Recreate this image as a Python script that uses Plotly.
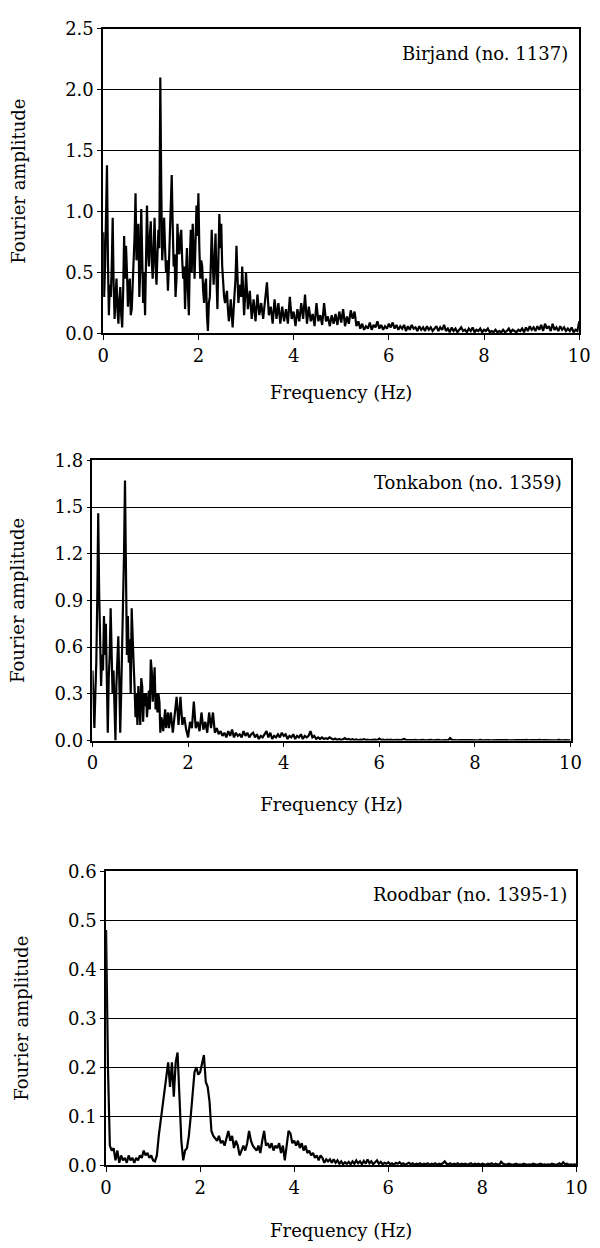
import numpy as np
import plotly.graph_objects as go

# ---------------- data ----------------
# Each panel: a finely read low-frequency part (step 0.02 Hz) followed by a coarser part (step 0.04 Hz).
FINE_STEP = 0.02
COARSE_STEP = 0.04

birjand_fine = [  # 0.00 - 2.98 Hz
    0.83, 0.30, 0.55, 1.00, 1.38, 0.60, 0.15, 0.40, 0.30, 0.55, 0.95, 0.40, 0.12, 0.30, 0.45, 0.20, 0.08, 0.28, 0.38, 0.15,
    0.05, 0.35, 0.80, 0.45, 0.72, 0.50, 0.22, 0.40, 0.45, 0.15, 0.20, 0.40, 0.55, 0.80, 1.15, 0.60, 0.80, 0.90, 0.30, 0.55,
    1.02, 0.60, 0.25, 0.50, 0.15, 0.60, 1.05, 0.70, 0.55, 0.80,
    0.92, 0.60, 0.45, 0.70, 0.95, 0.55, 0.40, 0.65, 0.85, 0.70, 2.10, 1.20, 0.60, 0.75, 0.95, 0.70, 0.50, 0.60, 0.35, 0.55,
    0.80, 0.95, 1.30, 0.90, 0.55, 0.65, 0.30, 0.45, 0.90, 0.70, 0.65, 0.80, 0.85, 0.60, 0.45, 0.55, 0.20, 0.50, 0.70, 0.35,
    0.15, 0.60, 0.85, 0.50, 0.90, 0.70, 0.45, 0.75, 1.05, 0.80,
    1.15, 0.70, 0.45, 0.60, 0.55, 0.35, 0.25, 0.40, 0.45, 0.15, 0.02, 0.25, 0.30, 0.55, 0.85, 0.60, 0.40, 0.60, 0.82, 0.45,
    0.20, 0.60, 0.98, 0.70, 0.90, 0.55, 0.40, 0.30, 0.25, 0.30, 0.35, 0.20, 0.10, 0.18, 0.28, 0.15, 0.05, 0.20, 0.30, 0.45,
    0.72, 0.40, 0.25, 0.35, 0.40, 0.30, 0.55, 0.35, 0.15, 0.30,
]
birjand_coarse = [  # 3.00 - 10.00 Hz
    0.50, 0.20, 0.35, 0.12, 0.28, 0.10, 0.32, 0.15, 0.25, 0.12, 0.30, 0.42, 0.15, 0.22, 0.08, 0.28, 0.12, 0.25, 0.08, 0.22, 0.10, 0.20, 0.08, 0.30, 0.12,
    0.18, 0.06, 0.20, 0.10, 0.25, 0.12, 0.32, 0.08, 0.22, 0.10, 0.16, 0.06, 0.25, 0.10, 0.15, 0.07, 0.25, 0.10, 0.14, 0.06, 0.15, 0.08, 0.16, 0.07, 0.18,
    0.09, 0.20, 0.06, 0.14, 0.08, 0.19, 0.12, 0.18, 0.06, 0.10, 0.04, 0.08, 0.03, 0.06, 0.04, 0.09, 0.03, 0.07, 0.05, 0.10, 0.04, 0.07, 0.03, 0.06, 0.04,
    0.08, 0.05, 0.09, 0.04, 0.07, 0.03, 0.06, 0.04, 0.07, 0.02, 0.06, 0.03, 0.07, 0.04, 0.05, 0.02, 0.06, 0.03, 0.05, 0.02, 0.06, 0.03, 0.05, 0.02, 0.04,
    0.06, 0.02, 0.05, 0.03, 0.07, 0.02, 0.04, 0.01, 0.05, 0.02, 0.04, 0.01, 0.03, 0.05, 0.02, 0.03, 0.01, 0.04, 0.02, 0.05, 0.01, 0.03, 0.02, 0.04, 0.01,
    0.03, 0.02, 0.04, 0.01, 0.02, 0.01, 0.03, 0.01, 0.02, 0.01, 0.03, 0.01, 0.02, 0.04, 0.01, 0.03, 0.02, 0.01, 0.03, 0.02, 0.04, 0.01, 0.05, 0.02, 0.06,
    0.03, 0.05, 0.02, 0.06, 0.03, 0.07, 0.02, 0.08, 0.04, 0.06, 0.02, 0.08, 0.03, 0.05, 0.02, 0.06, 0.03, 0.05, 0.02, 0.04, 0.02, 0.05, 0.01, 0.03, 0.02,
    0.10,
]

tonkabon_fine = [  # 0.00 - 1.58 Hz
    0.45, 0.20, 0.08, 0.30, 0.50, 0.90, 1.46, 0.95, 0.60, 0.35, 0.55, 0.45, 0.80, 0.55, 0.75, 0.30, 0.05, 0.40, 0.55, 0.85,
    0.60, 0.30, 0.45, 0.20, 0.00, 0.35, 0.55, 0.67, 0.40, 0.05, 0.30, 0.55, 0.90, 1.20, 1.67, 0.90, 0.55, 0.80, 0.50, 0.65,
    0.30, 0.85, 0.60, 0.50, 0.35, 0.15, 0.30, 0.10, 0.35, 0.25,
    0.10, 0.40, 0.35, 0.12, 0.30, 0.22, 0.30, 0.15, 0.25, 0.32, 0.20, 0.52, 0.45, 0.25, 0.35, 0.47, 0.20, 0.30, 0.18, 0.30,
    0.25, 0.05, 0.15, 0.12, 0.06, 0.15, 0.20, 0.08, 0.12, 0.18,
]
tonkabon_coarse = [  # 1.60 - 10.00 Hz
    0.08, 0.18, 0.05, 0.15, 0.28, 0.10, 0.28, 0.10, 0.15, 0.07,
    0.02, 0.12, 0.08, 0.25, 0.08, 0.12, 0.06, 0.18, 0.07, 0.12, 0.05, 0.18, 0.08, 0.18, 0.05, 0.08, 0.04, 0.06, 0.03, 0.05, 0.02, 0.06, 0.03, 0.07, 0.02,
    0.05, 0.03, 0.04, 0.02, 0.06, 0.03, 0.05, 0.02, 0.04, 0.05, 0.02, 0.04, 0.01, 0.03, 0.02, 0.04, 0.06, 0.02, 0.05, 0.01, 0.03, 0.02, 0.04, 0.02, 0.05,
    0.03, 0.04, 0.01, 0.03, 0.02, 0.04, 0.01, 0.03, 0.02, 0.04, 0.01, 0.03, 0.02, 0.03, 0.06, 0.02, 0.03, 0.01, 0.02, 0.01, 0.02, 0.01, 0.015, 0.01, 0.02,
    0.01, 0.005, 0.012, 0.004, 0.01, 0.003, 0.008, 0.015, 0.006, 0.01, 0.004, 0.008, 0.003, 0.007, 0.002, 0.006, 0.004, 0.008, 0.003, 0.006, 0.002, 0.005, 0.003, 0.006, 0.002,
    0.012, 0.004, 0.006, 0.002, 0.005, 0.003, 0.006, 0.002, 0.004, 0.002, 0.005, 0.001, 0.004, 0.010, 0.003, 0.004, 0.001, 0.003, 0.002, 0.004, 0.001, 0.003, 0.002, 0.004, 0.001,
    0.003, 0.002, 0.004, 0.001, 0.003, 0.002, 0.004, 0.001, 0.003, 0.002, 0.003, 0.001, 0.015, 0.004, 0.002, 0.003, 0.001, 0.003, 0.002, 0.004, 0.001, 0.003, 0.002, 0.003, 0.001,
    0.003, 0.001, 0.002, 0.004, 0.001, 0.003, 0.002, 0.003, 0.001, 0.002, 0.004, 0.001, 0.003, 0.002, 0.003, 0.001, 0.002, 0.003, 0.001, 0.002, 0.004, 0.001, 0.003, 0.002, 0.001,
    0.003, 0.002, 0.004, 0.001, 0.003, 0.002, 0.003, 0.001, 0.002, 0.004, 0.001, 0.003, 0.002, 0.003, 0.001, 0.002, 0.003, 0.001, 0.002, 0.004, 0.001, 0.003, 0.002, 0.003, 0.001,
    0.002,
]

roodbar_fine = []  # no finely read part
roodbar_coarse = [  # 0.00 - 10.00 Hz
    0.48, 0.20, 0.04, 0.03, 0.035, 0.01, 0.03, 0.005, 0.02, 0.01, 0.015, 0.005, 0.02, 0.01, 0.015, 0.005, 0.015, 0.01, 0.02, 0.015, 0.03, 0.02, 0.025, 0.015, 0.02,
    0.01, 0.008, 0.02, 0.06, 0.09, 0.12, 0.15, 0.17, 0.21, 0.16, 0.21, 0.14, 0.21, 0.23, 0.15, 0.05, 0.01, 0.03, 0.035, 0.06, 0.10, 0.15, 0.19, 0.20, 0.185,
    0.19, 0.21, 0.225, 0.17, 0.16, 0.13, 0.07, 0.06, 0.055, 0.05, 0.06, 0.045, 0.05, 0.04, 0.055, 0.07, 0.05, 0.06, 0.035, 0.05, 0.04, 0.02, 0.03, 0.04, 0.03,
    0.045, 0.07, 0.05, 0.04, 0.035, 0.03, 0.04, 0.025, 0.05, 0.07, 0.04, 0.045, 0.035, 0.045, 0.03, 0.04, 0.035, 0.045, 0.025, 0.04, 0.01, 0.035, 0.07, 0.065, 0.045,
    0.05, 0.04, 0.05, 0.035, 0.045, 0.03, 0.04, 0.025, 0.03, 0.02, 0.025, 0.015, 0.02, 0.01, 0.02, 0.015, 0.005, 0.012, 0.008, 0.012, 0.005, 0.012, 0.005, 0.01, 0.003,
    0.008, 0.002, 0.006, 0.003, 0.007, 0.002, 0.008, 0.003, 0.01, 0.004, 0.008, 0.002, 0.009, 0.003, 0.012, 0.004, 0.008, 0.002, 0.006, 0.01, 0.003, 0.007, 0.002, 0.005, 0.003,
    0.006, 0.002, 0.004, 0.001, 0.005, 0.003, 0.006, 0.002, 0.004, 0.001, 0.003, 0.005, 0.002, 0.004, 0.001, 0.003, 0.002, 0.004, 0.001, 0.003, 0.002, 0.004, 0.001, 0.003, 0.002,
    0.004, 0.001, 0.003, 0.002, 0.004, 0.008, 0.003, 0.002, 0.004, 0.001, 0.003, 0.002, 0.004, 0.001, 0.003, 0.002, 0.003, 0.001, 0.002, 0.004, 0.001, 0.003, 0.002, 0.003, 0.001,
    0.003, 0.002, 0.001, 0.003, 0.002, 0.004, 0.001, 0.003, 0.002, 0.001, 0.007, 0.003, 0.002, 0.001, 0.003, 0.002, 0.001, 0.002, 0.003, 0.001, 0.002, 0.001, 0.003, 0.002, 0.001,
    0.002, 0.001, 0.003, 0.002, 0.001, 0.002, 0.003, 0.001, 0.002, 0.001, 0.002, 0.001, 0.003, 0.002, 0.001, 0.002, 0.004, 0.001, 0.006, 0.002, 0.003, 0.001, 0.002, 0.001, 0.002,
    0.001,
]

station_labels = ["Birjand (no. 1137)", "Tonkabon (no. 1359)", "Roodbar (no. 1395-1)"]
y_ranges = [[0, 2.5], [0, 1.8], [0, 0.6]]
y_dticks = [0.5, 0.3, 0.1]
x_tick_values = [0, 2, 4, 6, 8, 10]
x_title = "Frequency (Hz)"
y_title = "Fourier amplitude"


def spectrum(fine, coarse):
    f_fine = np.arange(len(fine)) * FINE_STEP
    start = len(fine) * FINE_STEP
    f_coarse = start + np.arange(len(coarse)) * COARSE_STEP
    return np.round(np.concatenate([f_fine, f_coarse]), 3), list(fine) + list(coarse)


# ---------------- layout geometry (pixels in a 600 x 1248 page) ----------------
W, H = 600, 1248
panels_px = [  # (x_left, x_right, y_top, y_bottom)
    (100, 590, 18, 328),
    (89, 581, 457, 742),
    (103, 587, 875, 1174),
]
y_title_standoff = [35, 25, 35]
x_title_standoff = [22, 27, 28]
label_inset = [(10, 25), (7, 23), (8, 24)]  # (px from right frame, px from top frame)
FONT = "DejaVu Serif"
FS = 18

fig = go.Figure()
series = [(birjand_fine, birjand_coarse), (tonkabon_fine, tonkabon_coarse), (roodbar_fine, roodbar_coarse)]
layout = dict(
    width=W, height=H, margin=dict(l=0, r=0, t=0, b=0),
    paper_bgcolor="white", plot_bgcolor="white", showlegend=False,
    font=dict(family=FONT, size=FS, color="black"),
)
annotations = []
for i, ((fine, coarse), (xl, xr, yt, yb)) in enumerate(zip(series, panels_px)):
    n = i + 1
    sfx = "" if n == 1 else str(n)
    freq, amp = spectrum(fine, coarse)
    fig.add_trace(go.Scatter(
        x=freq, y=amp, mode="lines",
        line=dict(color="black", width=2.2),
        xaxis="x" + sfx, yaxis="y" + sfx, hoverinfo="skip",
    ))
    dom_x = [xl / W, xr / W]
    dom_y = [1 - yb / H, 1 - yt / H]
    layout["xaxis" + sfx] = dict(
        domain=dom_x, anchor="y" + sfx, range=[0, 10],
        tickvals=x_tick_values, ticks="outside", ticklen=5, tickwidth=1.3, tickcolor="black",
        showline=True, linecolor="black", linewidth=1.5, mirror=True,
        showgrid=False, zeroline=False,
        tickfont=dict(family=FONT, size=FS, color="black"),
        title=dict(text=x_title, standoff=x_title_standoff[i], font=dict(family=FONT, size=FS, color="black")),
    )
    layout["yaxis" + sfx] = dict(
        domain=dom_y, anchor="x" + sfx, range=y_ranges[i],
        dtick=y_dticks[i], tick0=0, tickformat=".1f",
        ticks="outside", ticklen=4, tickwidth=1.3, tickcolor="black",
        showline=True, linecolor="black", linewidth=1.5, mirror=True,
        showgrid=True, gridcolor="black", gridwidth=1.3, zeroline=False,
        tickfont=dict(family=FONT, size=FS, color="black"),
        title=dict(text=y_title, standoff=y_title_standoff[i], font=dict(family=FONT, size=FS, color="black")),
    )
    ix, iy = label_inset[i]
    annotations.append(dict(
        text=station_labels[i], xref="x" + sfx + " domain", yref="y" + sfx + " domain",
        x=1 - ix / (xr - xl), y=1 - iy / (yb - yt), xanchor="right", yanchor="middle",
        showarrow=False, font=dict(family=FONT, size=FS, color="black"),
    ))
layout["annotations"] = annotations
fig.update_layout(**layout)
fig.write_html("out.html")
